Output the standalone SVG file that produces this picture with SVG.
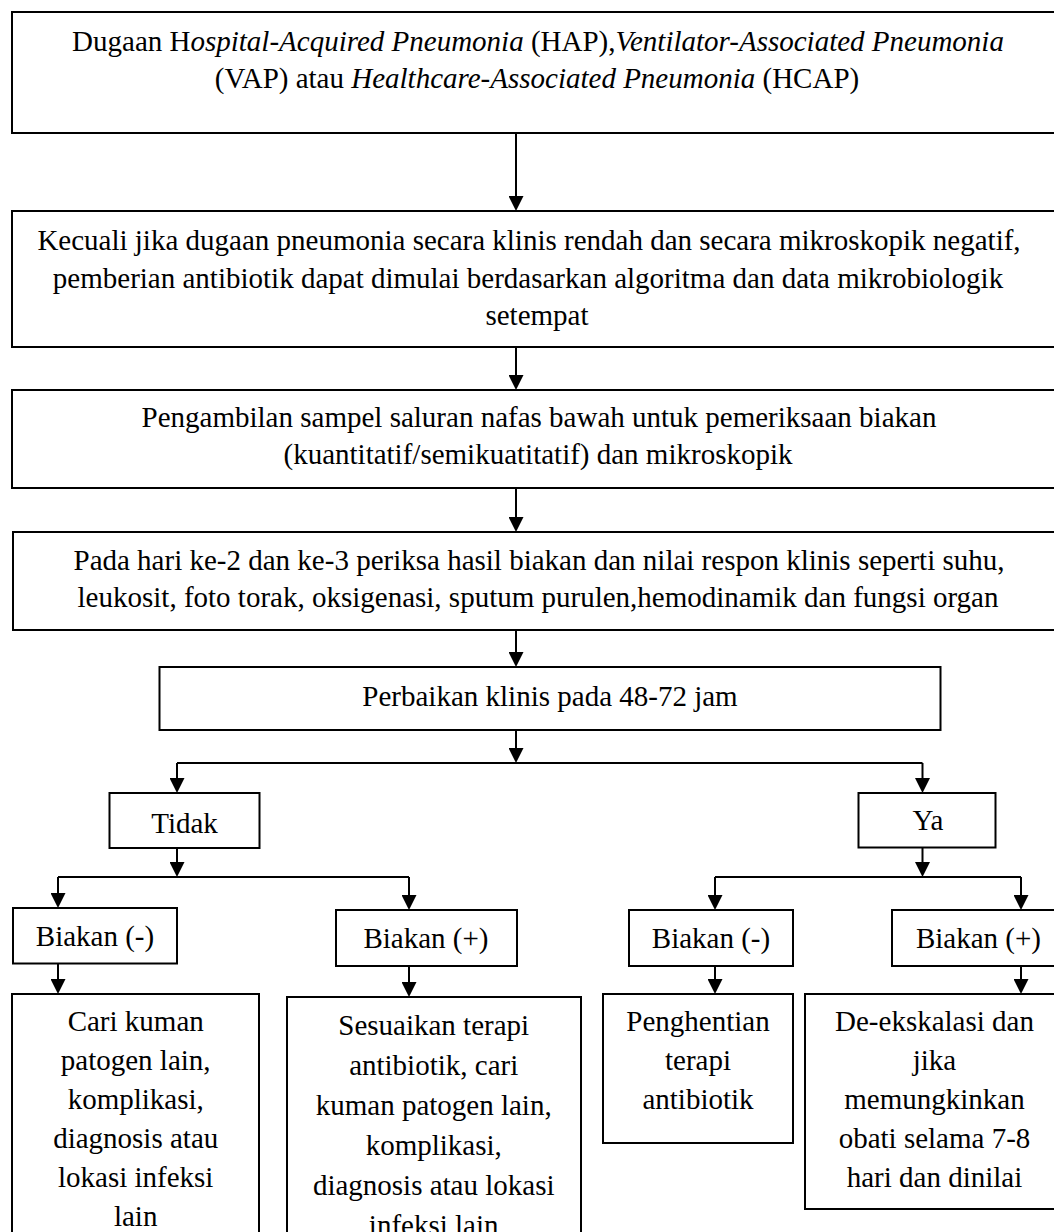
<svg xmlns="http://www.w3.org/2000/svg" width="1054" height="1232" viewBox="0 0 1054 1232">
<style>
.box{fill:#fff;stroke:#000;stroke-width:2}
.t{font-family:"Liberation Serif","Times New Roman",serif;font-size:29px;fill:#000;text-anchor:middle}
.i{font-style:italic}
.c{fill:none;stroke:#000;stroke-width:2}
.a{marker-end:url(#ah)}
</style>
<defs>
<marker id="ah" viewBox="0 0 15 15" refX="5" refY="7.5" markerWidth="15" markerHeight="15" markerUnits="userSpaceOnUse" orient="auto">
<path d="M0,0 L15,7.5 L0,15 z" fill="#000"/>
</marker>
</defs>
<rect width="1054" height="1232" fill="#fff"/>
<g id="connectors">
<path class="c a" d="M516,133 V201"/>
<path class="c a" d="M516,347 V380"/>
<path class="c a" d="M516,488 V522"/>
<path class="c a" d="M516,630 V657"/>
<path class="c a" d="M516,730 V753"/>
<path class="c" d="M177,763 H922.5"/>
<path class="c a" d="M177,763 V783"/>
<path class="c a" d="M922.5,763 V783"/>
<path class="c a" d="M177,848 V867"/>
<path class="c" d="M58,877 H409"/>
<path class="c a" d="M58,877 V898"/>
<path class="c a" d="M409,877 V900"/>
<path class="c a" d="M922.5,847 V867"/>
<path class="c" d="M715,877 H1021"/>
<path class="c a" d="M715,877 V900"/>
<path class="c a" d="M1021,877 V900"/>
<path class="c a" d="M58,963 V984"/>
<path class="c a" d="M409,966 V987"/>
<path class="c a" d="M715,966 V984"/>
<path class="c a" d="M1021,966 V984"/>
</g>
<g id="n1">
<rect class="box" x="12" y="12" width="1060" height="121"/>
<text class="t" x="538" y="50.5">Dugaan H<tspan class="i">ospital-Acquired Pneumonia</tspan> (HAP),<tspan class="i">Ventilator-Associated Pneumonia</tspan></text>
<text class="t" x="537" y="88">(VAP) atau <tspan class="i">Healthcare-Associated Pneumonia</tspan> (HCAP)</text>
</g>
<g id="n2">
<rect class="box" x="12" y="211" width="1060" height="136"/>
<text class="t" x="529" y="250">Kecuali jika dugaan pneumonia secara klinis rendah dan secara mikroskopik negatif,</text>
<text class="t" x="528" y="287.5">pemberian antibiotik dapat dimulai berdasarkan algoritma dan data mikrobiologik</text>
<text class="t" x="537" y="325">setempat</text>
</g>
<g id="n3">
<rect class="box" x="12" y="390" width="1060" height="98"/>
<text class="t" x="539" y="427">Pengambilan sampel saluran nafas bawah untuk pemeriksaan biakan</text>
<text class="t" x="538" y="464">(kuantitatif/semikuatitatif) dan mikroskopik</text>
</g>
<g id="n4">
<rect class="box" x="13" y="532" width="1060" height="98"/>
<text class="t" x="539" y="570">Pada hari ke-2 dan ke-3 periksa hasil biakan dan nilai respon klinis seperti suhu,</text>
<text class="t" x="538" y="607">leukosit, foto torak, oksigenasi, sputum purulen,hemodinamik dan fungsi organ</text>
</g>
<g id="n5">
<rect class="box" x="159.5" y="667" width="781" height="63"/>
<text class="t" x="550" y="706">Perbaikan klinis pada 48-72 jam</text>
</g>
<g id="tidak">
<rect class="box" x="109.5" y="793" width="150" height="55"/>
<text class="t" x="184.5" y="833">Tidak</text>
</g>
<g id="ya">
<rect class="box" x="858.5" y="793" width="137" height="54.5"/>
<text class="t" x="928" y="830">Ya</text>
</g>
<g id="biakan-neg-1">
<rect class="box" x="13" y="908" width="164" height="55.5"/>
<text class="t" x="95" y="946">Biakan (-)</text>
</g>
<g id="biakan-pos-1">
<rect class="box" x="336" y="910" width="181" height="56"/>
<text class="t" x="426" y="948">Biakan (+)</text>
</g>
<g id="biakan-neg-2">
<rect class="box" x="629" y="910" width="164" height="56"/>
<text class="t" x="711" y="948">Biakan (-)</text>
</g>
<g id="biakan-pos-2">
<rect class="box" x="892" y="910" width="180" height="56"/>
<text class="t" x="978.5" y="948">Biakan (+)</text>
</g>
<g id="b1">
<rect class="box" x="12" y="994" width="247" height="260"/>
<text class="t" x="135.7" y="1031">Cari kuman</text>
<text class="t" x="135.7" y="1070">patogen lain,</text>
<text class="t" x="135.7" y="1109">komplikasi,</text>
<text class="t" x="135.7" y="1148">diagnosis atau</text>
<text class="t" x="135.7" y="1187">lokasi infeksi</text>
<text class="t" x="135.7" y="1226">lain</text>
</g>
<g id="b2">
<rect class="box" x="287" y="997" width="294" height="260"/>
<text class="t" x="433.7" y="1035">Sesuaikan terapi</text>
<text class="t" x="433.7" y="1075">antibiotik, cari</text>
<text class="t" x="433.7" y="1115">kuman patogen lain,</text>
<text class="t" x="433.7" y="1155">komplikasi,</text>
<text class="t" x="433.7" y="1195">diagnosis atau lokasi</text>
<text class="t" x="433.7" y="1235">infeksi lain</text>
</g>
<g id="b3">
<rect class="box" x="603" y="994" width="190" height="149"/>
<text class="t" x="698" y="1031">Penghentian</text>
<text class="t" x="698" y="1070">terapi</text>
<text class="t" x="698" y="1109">antibiotik</text>
</g>
<g id="b4">
<rect class="box" x="805" y="994" width="270" height="215"/>
<text class="t" x="934.5" y="1031">De-ekskalasi dan</text>
<text class="t" x="934.5" y="1070">jika</text>
<text class="t" x="934.5" y="1109">memungkinkan</text>
<text class="t" x="934.5" y="1148">obati selama 7-8</text>
<text class="t" x="934.5" y="1187">hari dan dinilai</text>
</g>
</svg>
